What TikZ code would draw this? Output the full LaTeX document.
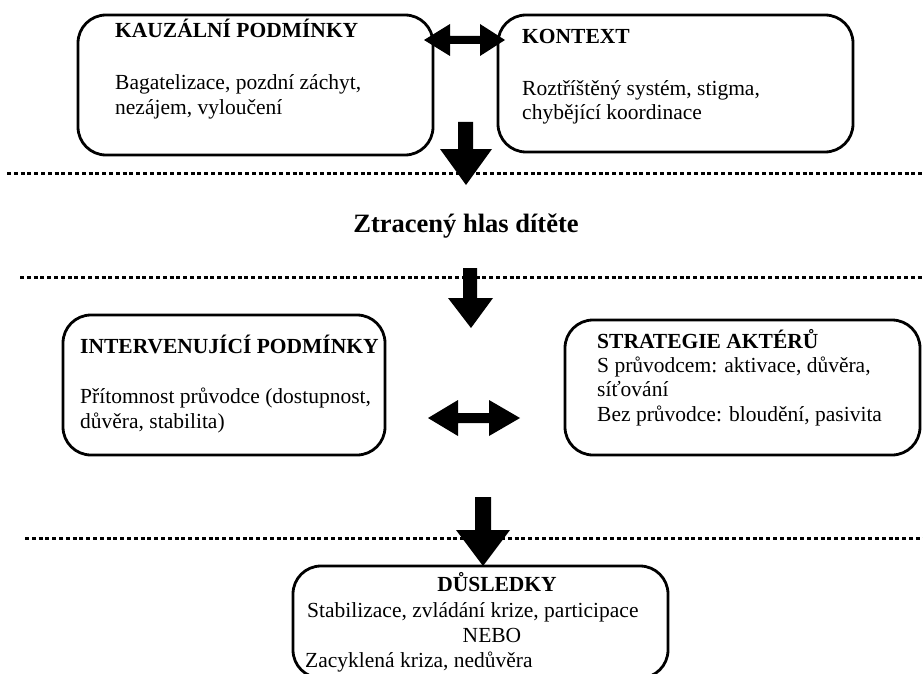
\documentclass[tikz,border=0pt]{standalone}
\usepackage{fontspec}
\setmainfont{Liberation Serif}
\begin{document}
\begin{tikzpicture}[x=1pt,y=-1pt,
  box/.style={draw=black, line width=2.8pt, rounded corners=28pt, inner sep=0pt},
  txt/.style={font=\fontsize{21.5}{25}\selectfont, inner sep=0pt, anchor=base west},
  ttl/.style={txt, font=\fontsize{21.5}{25}\selectfont\bfseries},
  dotline/.style={line width=3pt, dash pattern=on 4pt off 2.8pt},
  blk/.style={fill=black}]
\useasboundingbox (0,0) rectangle (923,674);
\fill[white] (0,0) rectangle (923,674);
\clip (0,0) rectangle (923,674);

% boxes
\node[box, minimum width=355pt, minimum height=140pt] (kauz) at (255.5,85) {};
\node[box, minimum width=355pt, minimum height=137pt] (kont) at (675.5,83.5) {};
\node[box, minimum width=322pt, minimum height=140pt] (inter) at (224,385) {};
\node[box, minimum width=355pt, minimum height=135pt] (strat) at (742.5,387.5) {};
\node[box, minimum width=375pt, minimum height=112pt] (dusl) at (480.5,622) {};

% texts
\node[ttl] (t1) at (115,38) {KAUZÁLNÍ PODMÍNKY};
\node[txt] (b1a) at (115,90) {Bagatelizace, pozdní záchyt,};
\node[txt] (b1b) at (115,115) {nezájem, vyloučení};

\node[ttl] (t2) at (522,44) {KONTEXT};
\node[txt] (b2a) at (522,96) {Roztříštěný systém, stigma,};
\node[txt] (b2b) at (522,120) {chybějící koordinace};

\node[ttl] (t3) at (80,353) {INTERVENUJÍCÍ PODMÍNKY};
\node[txt] (b3a) at (80,403) {Přítomnost průvodce (dostupnost,};
\node[txt] (b3b) at (80,428) {důvěra, stabilita)};

\node[ttl] (t4) at (597,348) {STRATEGIE AKTÉRŮ};
\node[txt] (b4a) at (597,372) {S průvodcem: aktivace, důvěra,};
\node[txt] (b4b) at (597,396) {síťování};
\node[txt] (b4c) at (597,421) {Bez průvodce: bloudění, pasivita};

\node[ttl, anchor=base] (t5) at (497,591) {DŮSLEDKY};
\node[txt] (b5a) at (307,617) {Stabilizace, zvládání krize, participace};
\node[txt, anchor=base] (b5b) at (492,642) {NEBO};
\node[txt] (b5c) at (305,667) {Zacyklená kriza, nedůvěra};

\node[font=\fontsize{26.5}{30}\selectfont\bfseries, inner sep=0pt, anchor=base] (core) at (466,232) {Ztracený hlas dítěte};

% dotted lines
\draw[dotline] (7,173) -- (923,173);
\draw[dotline] (20,277) -- (923,277);
\draw[dotline] (25,538) -- (923,538);

% block arrows
\fill[blk] (424,40) -- (450,24) -- (450,36) -- (480,36) -- (480,24) -- (505,40) -- (480,56) -- (480,44) -- (450,44) -- (450,56) -- cycle;
\fill[blk] (458,122) -- (473,122) -- (473,149) -- (492,149) -- (466,185) -- (440,149) -- (458,149) -- cycle;
\fill[blk] (463,268) -- (477,268) -- (477,298) -- (493,298) -- (471,328) -- (448,298) -- (463,298) -- cycle;
\fill[blk] (428,418) -- (458,400) -- (458,413) -- (489,413) -- (489,400) -- (520,418) -- (489,436) -- (489,423) -- (458,423) -- (458,436) -- cycle;
\fill[blk] (475,497) -- (491,497) -- (491,530) -- (510,530) -- (483,566) -- (456,530) -- (475,530) -- cycle;
\end{tikzpicture}
\end{document}
